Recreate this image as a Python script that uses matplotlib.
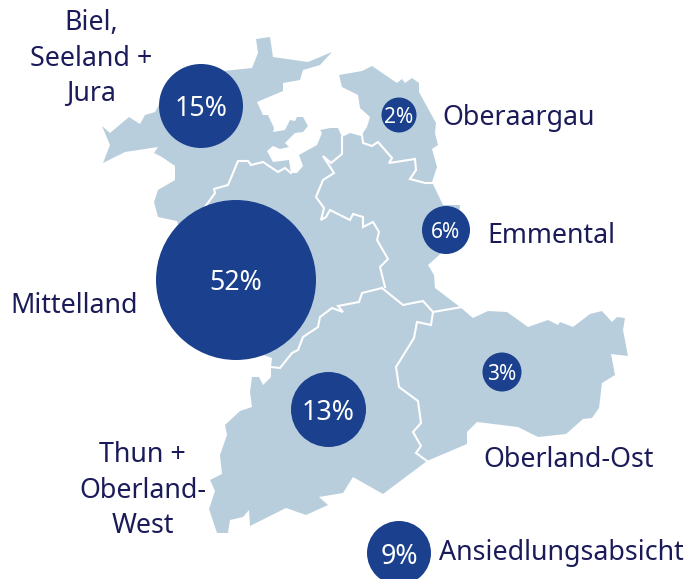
import matplotlib
matplotlib.use("Agg")
import matplotlib.pyplot as plt
from matplotlib.patches import Polygon, Circle

plt.rcParams['font.family'] = ['Noto Sans', 'DejaVu Sans']

# Map geometry, traced in reference pixel coordinates
outline = [(103,163),(110,145),(102,126),(110,133),(129,117),(140,124),(145,115),(155,112),(160,103),(200,75),
 (223,71),(252,68),(258,53),(256,39),(270,37),(273,57),(308,62),(332,52),(320,65),(303,70),(300,80),(283,83),(283,91),
 (257,102),(263,115),(268,115),(274,128),(273,132),(285,130),(290,120),(295,121),(297,117),(303,117),(308,126),(303,132),
 (295,133),(285,143),(289,147),(280,149),(273,146),(267,151),(273,162),(289,160),(291,173),(297,173),(303,166),(299,155),
 (317,145),(322,133),(320,130),(330,128),(338,128),(342,137),(350,133),(361,136),(367,127),(370,117),(360,108),(358,95),
 (342,87),(339,75),(362,71),(372,66),(397,83),(402,79),(405,83),(412,78),(419,83),(419,92),(436,123),(435,133),(438,145),
 (432,149),(437,167),(432,182),(443,205),(460,205),(459,217),(450,245),(437,257),(428,265),(434,275),(435,288),(460,307),
 (473,318),(488,311),(507,312),(528,327),(548,320),(558,325),(560,322),(573,327),(590,314),(602,311),(612,322),(617,317),
 (625,318),(623,330),(628,356),(611,354),(615,375),(602,383),(599,408),(592,418),(583,419),(566,434),(538,437),(518,427),
 (477,422),(467,432),(467,444),(427,461),(383,494),(353,477),(343,493),(319,497),(328,505),(306,515),(286,508),(250,526),
 (249,510),(243,517),(230,520),(228,533),(217,533),(209,509),(215,491),(210,480),(222,474),(220,455),(227,435),(225,425),
 (240,411),(252,407),(250,392),(252,377),(259,377),(263,385),(271,377),(271,367),(272,358),(220,340),(190,260),(177,221),
 (158,217),(154,202),(158,190),(175,180),(175,166),(162,157),(154,153),(158,147),(125,152)]

border_biel = [(205,207),(215,193),(214,189),(228,185),(238,161),(248,161),(251,165),(263,162),(278,172),(285,168),(291,173)]
border_emmental_west = [(342,137),(342,154),(331,163),(323,156),(334,173),(323,180),(316,197),(324,208),(321,220),(326,217),
 (330,210),(350,220),(353,214),(363,217),(363,227),(373,222),(379,232),(377,240),(388,259),(380,267),(385,287)]
border_thun_north = [(382,288),(362,293),(359,302),(338,306),(343,312),(332,308),(320,317),(318,327),(303,337),(298,350),
 (292,353),(280,368),(271,367)]
border_emmental_south = [(382,288),(403,305),(423,301),(433,312),(462,307)]
border_ost_west = [(433,312),(431,325),(417,322),(414,338),(396,367),(399,387),(418,401),(421,423),(413,432),(421,446),
 (416,453),(427,461)]
border_oberaargau = [(362,135),(363,143),(372,146),(378,142),(392,158),(389,163),(415,159),(416,170),(410,179),(425,183),(433,183)]
borders = [border_biel, border_emmental_west, border_thun_north, border_emmental_south, border_ost_west, border_oberaargau]

# Bubbles
shares = [15, 52, 2, 6, 3, 13, 9]
bubble_x = [201, 236, 399, 446, 502, 328.5, 399]
bubble_y = [106, 280, 115, 230, 372, 409.5, 553]
bubble_r = [42, 80, 17.5, 24, 19.5, 37.5, 32]
share_font = [19.3, 19.3, 15, 15, 15, 19.3, 19.3]
share_dy = [3.5, 3.5, 2.5, 2.5, 2.5, 3.5, 3.5]

# Region labels
regions = ["Biel,\nSeeland +\nJura", "Mittelland", "Oberaargau", "Emmental", "Oberland-Ost",
           "Thun +\nOberland-\nWest", "Ansiedlungsabsicht"]
label_x = [91.5, 74, 519, 551, 568.5, 142.5, 561.5]
label_y = [58.5, 306, 118, 236, 460, 490.5, 553]

MAP = "#b9cedc"
BUBBLE = "#1a408e"
INK = "#1b1b5a"

fig = plt.figure(figsize=(6.88, 5.79), dpi=100)
ax = fig.add_axes([0, 0, 1, 1])
ax.set_xlim(0, 688)
ax.set_ylim(579, 0)
ax.axis("off")

ax.add_patch(Polygon(outline, closed=True, fc=MAP, ec="none", zorder=1))
for b in borders:
    xs, ys = zip(*b)
    ax.plot(xs, ys, color="white", lw=1.5, solid_joinstyle="miter", zorder=2)

for v, x, y, r, fs, dy in zip(shares, bubble_x, bubble_y, bubble_r, share_font, share_dy):
    ax.add_patch(Circle((x, y), r, fc=BUBBLE, ec="none", zorder=3))
    ax.text(x, y + dy, f"{v}%", color="white", fontsize=fs, ha="center", va="center", zorder=4)

for t, x, y in zip(regions, label_x, label_y):
    ax.text(x, y, t, color=INK, fontsize=19.3, ha="center", va="center", linespacing=1.36, zorder=4)

fig.savefig("out.png", dpi=100)
